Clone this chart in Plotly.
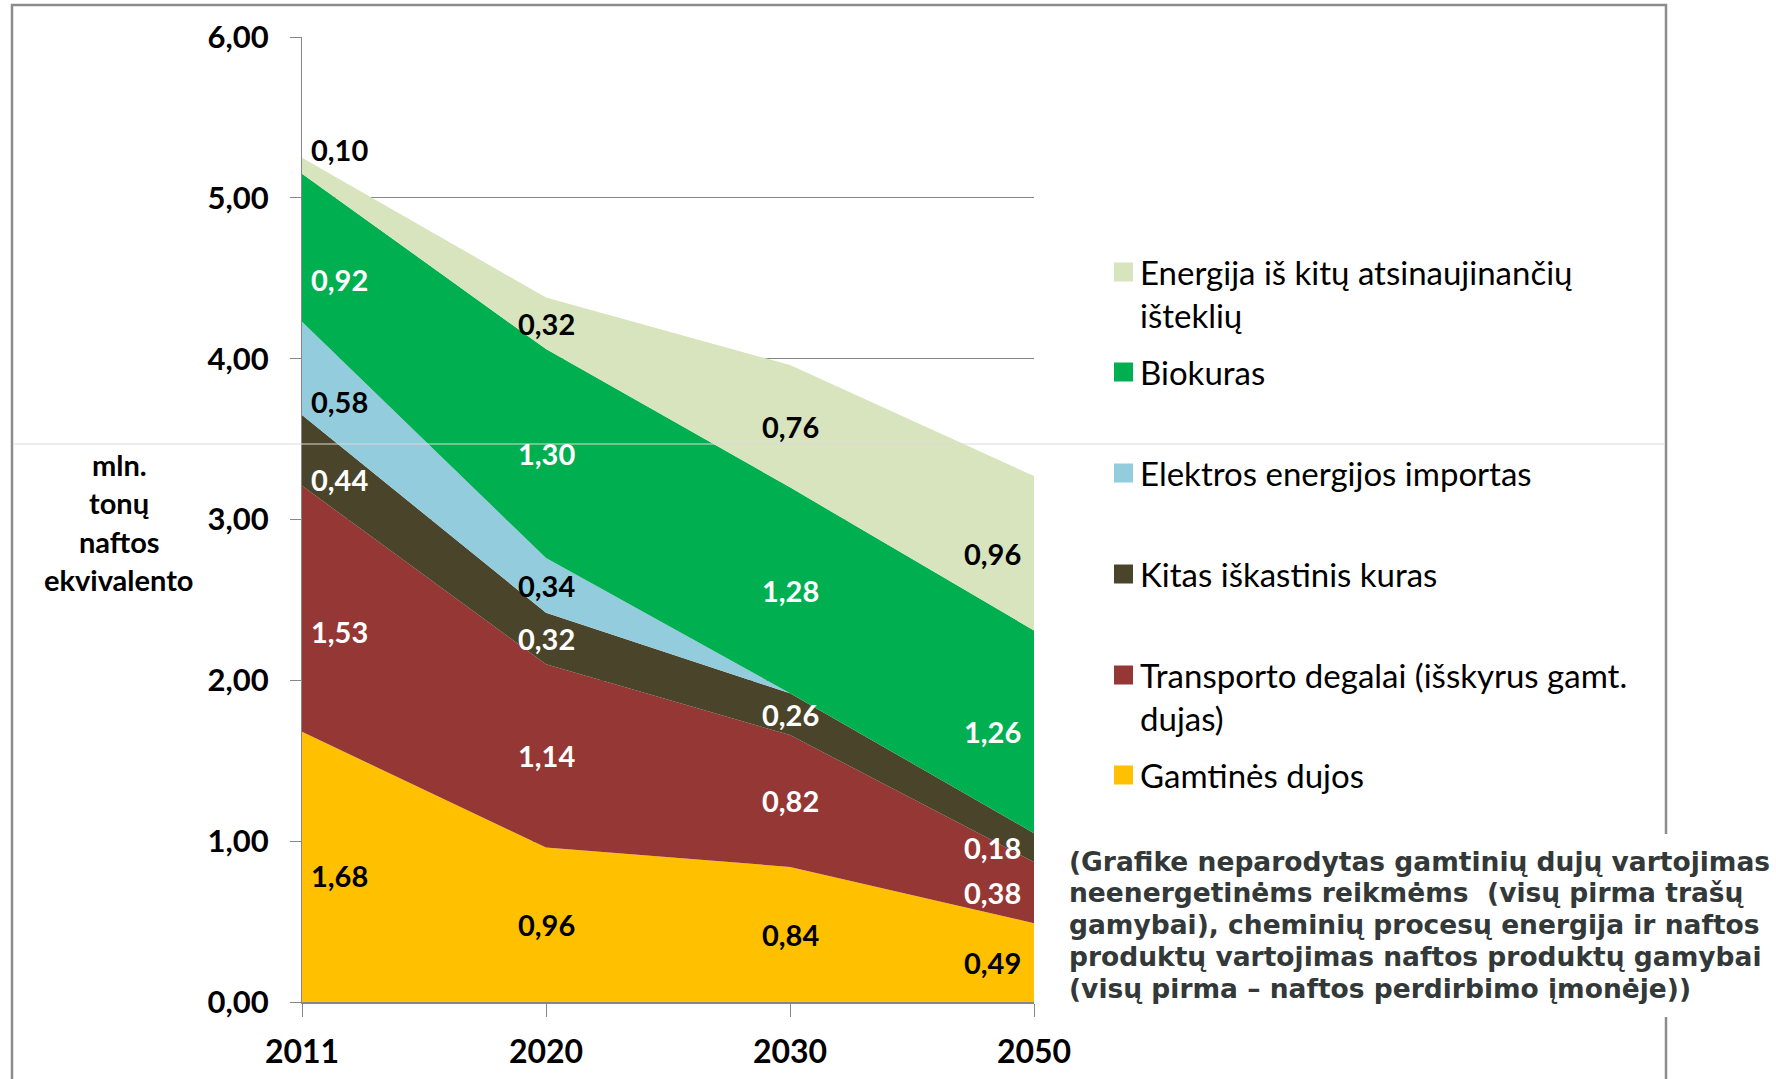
import plotly.graph_objects as go

# ---------------- data ----------------
years = ["2011", "2020", "2030", "2050"]
series_names = [
    "Gamtinės dujos",
    "Transporto degalai (išskyrus gamt. dujas)",
    "Kitas iškastinis kuras",
    "Elektros energijos importas",
    "Biokuras",
    "Energija iš kitų atsinaujinančių išteklių",
]
gamtines_dujos = [1.68, 0.96, 0.84, 0.49]
transporto_degalai = [1.53, 1.14, 0.82, 0.38]
kitas_kuras = [0.44, 0.32, 0.26, 0.18]
elektros_importas = [0.58, 0.34, 0.0, 0.0]
biokuras = [0.92, 1.30, 1.28, 1.26]
kita_atsinaujinanti = [0.10, 0.32, 0.76, 0.96]
y_ticks = [0, 1, 2, 3, 4, 5, 6]

legend_lines = [
    ["Energija iš kitų atsinaujinančių", "išteklių"],
    ["Biokuras"],
    ["Elektros energijos importas"],
    ["Kitas iškastinis kuras"],
    ["Transporto degalai (išskyrus gamt.", "dujas)"],
    ["Gamtinės dujos"],
]
y_title_lines = ["mln.", "tonų", "naftos", "ekvivalento"]
note_lines = [
    "(Grafike neparodytas gamtinių dujų vartojimas",
    "neenergetinėms reikmėms \u00a0(visų pirma trašų",
    "gamybai), cheminių procesų energija ir naftos",
    "produktų vartojimas naftos produktų gamybai",
    "(visų pirma – naftos perdirbimo įmonėje))",
]

# ---------------- styles ----------------
colors = ["#FFC000", "#953735", "#4A452A", "#93CDDD", "#00B050", "#D7E4BD"]
label_colors = ["black", "white", "white", "black", "white", "black"]
W_PX, H_PX = 1776, 1079
L, R, T, B = 302, 1034, 37, 1002
FONT = "Lato"

def px(x):
    return (x - L) / (R - L)

def py(y):
    return (B - y) / (B - T)

values = [gamtines_dujos, transporto_degalai, kitas_kuras,
          elektros_importas, biokuras, kita_atsinaujinanti]
xs = list(range(len(years)))

fig = go.Figure()
for name, vals, col in zip(series_names, values, colors):
    fig.add_trace(go.Scatter(
        x=xs, y=vals, name=name, stackgroup="one", mode="lines",
        line=dict(width=0, color=col), fillcolor=col, showlegend=False,
        hoverinfo="name+y"))

# cumulative stacks for label placement
cum = []
base = [0.0] * len(xs)
for vals in values:
    top = [b + v for b, v in zip(base, vals)]
    cum.append((base[:], top))
    base = top

def interp(arr, x):
    i = min(int(x), len(arr) - 2)
    f = x - i
    return arr[i] + (arr[i + 1] - arr[i]) * f

label_x = [0.155, 1.0, 2.0, 2.83]     # where the text sits
label_eval_x = [0.155, 1.0, 2.0, 3.0]  # where the band middle is measured
annotations = []
for s, vals in enumerate(values):
    lo, hi = cum[s]
    for j, v in enumerate(vals):
        if v <= 0:
            continue
        xe = label_eval_x[j]
        ylo, yhi = interp(lo, xe), interp(hi, xe)
        txt = f"{v:.2f}".replace(".", ",")
        font = dict(family=FONT, size=29, color=label_colors[s], weight="bold")
        if v < 0.15:
            annotations.append(dict(x=label_x[j], y=yhi, xref="x", yref="y", text=txt,
                                    showarrow=False, yanchor="bottom", yshift=10, font=font))
        else:
            annotations.append(dict(x=label_x[j], y=(ylo + yhi) / 2, xref="x", yref="y",
                                    text=txt, showarrow=False, font=font))

# y-axis title (multi-line)
for k, line in enumerate(y_title_lines):
    annotations.append(dict(x=px(119), y=py(464 + 38.6 * k), xref="paper", yref="paper",
                            text=line, showarrow=False, xanchor="center", yanchor="middle",
                            font=dict(family=FONT, size=29, color="black", weight="bold")))

# legend (manual)
shapes = []
legend_y = [272, 372, 473, 574, 675, 775]
for lines, yc, col in zip(legend_lines, legend_y, colors[::-1]):
    shapes.append(dict(type="rect", xref="paper", yref="paper",
                       x0=px(1114), x1=px(1133), y0=py(yc + 9.5), y1=py(yc - 9.5),
                       fillcolor=col, line=dict(width=0)))
    for k, line in enumerate(lines):
        annotations.append(dict(x=px(1138), y=py(yc + 43 * k), xref="paper", yref="paper",
                                text=line, showarrow=False, xanchor="left", yanchor="middle",
                                font=dict(family=FONT, size=33, color="black")))

# note
for k, line in enumerate(note_lines):
    annotations.append(dict(x=px(1067), y=py(861 + 31.8 * k), xref="paper", yref="paper",
                            text=line, showarrow=False, xanchor="left", yanchor="middle",
                            font=dict(family="DejaVu Sans", size=26.5, color="#333838", weight="bold")))

# outer frame, stray slide line, and the note's white box hiding the frame
shapes.append(dict(type="rect", xref="paper", yref="paper",
                   x0=px(12), x1=px(1666), y0=py(1100), y1=py(5),
                   line=dict(color="#8C8C8C", width=2.5), fillcolor="rgba(0,0,0,0)", layer="below"))
shapes.append(dict(type="line", xref="paper", yref="paper",
                   x0=px(13), x1=px(1665), y0=py(444), y1=py(444),
                   line=dict(color="#DADADA", width=1), layer="above"))
shapes.append(dict(type="rect", xref="paper", yref="paper",
                   x0=px(1060), x1=px(1776), y0=py(1017), y1=py(834),
                   fillcolor="white", line=dict(width=0), layer="above"))

fig.update_layout(
    width=W_PX, height=H_PX,
    margin=dict(l=L, r=W_PX - R, t=T, b=H_PX - B, pad=0, autoexpand=False),
    paper_bgcolor="white", plot_bgcolor="white",
    separators=", ",
    showlegend=False,
    annotations=annotations,
    shapes=shapes,
    xaxis=dict(range=[0, 3], tickvals=xs, ticktext=years, showgrid=False,
               showline=True, linecolor="#868686", linewidth=2, automargin=False,
               ticks="outside", ticklen=13, tickcolor="#868686", tickwidth=1,
               ticklabelstandoff=8, zeroline=False,
               tickfont=dict(family=FONT, size=32, color="black", weight="bold")),
    yaxis=dict(range=[0, 6], tickvals=y_ticks, tickformat=".2f", automargin=False,
               showgrid=True, gridcolor="#868686", gridwidth=1,
               showline=True, linecolor="#868686", linewidth=1,
               ticks="outside", ticklen=11, tickcolor="#868686",
               ticklabelstandoff=15, zeroline=False,
               tickfont=dict(family=FONT, size=31, color="black", weight="bold")),
)

fig.write_html("out.html", config={"displayModeBar": False},
               post_script="document.body.style.margin='0';")
